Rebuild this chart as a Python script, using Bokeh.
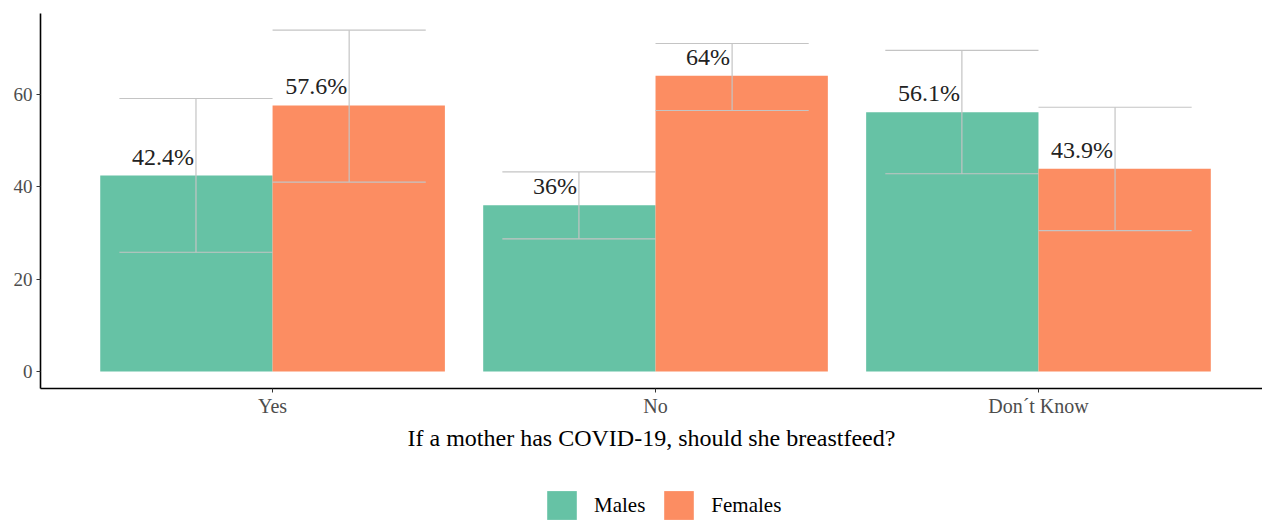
import numpy as np
from bokeh.plotting import figure
from bokeh.layouts import column
from bokeh.models import (ColumnDataSource, Range1d, FixedTicker, Legend,
                          LegendItem)
from bokeh.core.properties import value
from bokeh.embed import file_html
from bokeh.resources import INLINE

# Survey answers and the share of each group (percent)
answers = ["Yes", "No", "Don\u00b4t Know"]
groups = ["Males", "Females"]
males = [42.4, 36.0, 56.1]
females = [57.6, 64.0, 43.9]

# Confidence intervals (lower / upper) for each share
males_lo = [25.8, 28.7, 42.8]
males_hi = [59.1, 43.2, 69.5]
females_lo = [41.0, 56.5, 30.5]
females_hi = [73.9, 71.0, 57.2]

y_ticks = [0, 20, 40, 60]
x_title = "If a mother has COVID\u201019, should she breastfeed?"

GREEN = "#66C2A5"
ORANGE = "#FC8D62"
FONT = "Liberation Serif"

pos = np.arange(1, len(answers) + 1, dtype=float)
bar_w = 0.45
err_shift = 0.2
cap_half = 0.2

p = figure(frame_width=1222, frame_height=375, output_backend="svg",
           toolbar_location=None,
           x_range=Range1d(0.394, 3.585), y_range=Range1d(-3.7, 77.5),
           min_border_left=40, min_border_right=0, min_border_top=13,
           min_border_bottom=99)
p.outline_line_color = None
p.xgrid.visible = False
p.ygrid.visible = False
p.background_fill_color = "white"
p.border_fill_color = "white"

# Bars
src_m = ColumnDataSource(dict(x=pos - bar_w / 2, top=males))
src_f = ColumnDataSource(dict(x=pos + bar_w / 2, top=females))
p.vbar(x="x", top="top", bottom=0, width=bar_w, source=src_m,
       fill_color=GREEN, line_color=None)
p.vbar(x="x", top="top", bottom=0, width=bar_w, source=src_f,
       fill_color=ORANGE, line_color=None)

# Error bars
ERR_COLOR = "#c4c4c4"
for xs, lo, hi in ((pos - err_shift, males_lo, males_hi),
                   (pos + err_shift, females_lo, females_hi)):
    p.segment(x0=xs, x1=xs, y0=lo, y1=hi, line_color=ERR_COLOR, line_width=1.2)
    p.segment(x0=xs - cap_half, x1=xs + cap_half, y0=lo, y1=lo,
              line_color=ERR_COLOR, line_width=1.2)
    p.segment(x0=xs - cap_half, x1=xs + cap_half, y0=hi, y1=hi,
              line_color=ERR_COLOR, line_width=1.2)

# Value labels
def fmt(v):
    return f"{v:g}%"

for xs, vals in ((pos - err_shift, males), (pos + err_shift, females)):
    p.text(x=xs, y=vals, text=[fmt(v) for v in vals], x_offset=-2, y_offset=-19,
           text_align="right", text_baseline="alphabetic",
           text_font=value(FONT), text_font_size="24px", text_color="#222222")

# Axes
for ax in (p.xaxis, p.yaxis):
    ax.axis_line_color = "black"
    ax.axis_line_width = 1.6
    ax.major_tick_line_color = "#333333"
    ax.major_tick_out = 4
    ax.major_tick_in = 0
    ax.minor_tick_line_color = None
    ax.major_label_text_font = FONT
    ax.major_label_text_color = "#4d4d4d"
    ax.major_label_text_font_size = "19px"

p.yaxis.ticker = FixedTicker(ticks=y_ticks)
p.yaxis.major_label_standoff = 4

p.xaxis.ticker = FixedTicker(ticks=list(pos))
p.xaxis.major_label_overrides = {float(x): a for x, a in zip(pos, answers)}
p.xaxis.major_label_overrides.update({int(x): a for x, a in zip(pos, answers)})
p.xaxis.major_label_text_font_size = "20px"
p.xaxis.major_label_standoff = 2
p.xaxis.axis_label = x_title
p.xaxis.axis_label_text_font = FONT
p.xaxis.axis_label_text_font_style = "normal"
p.xaxis.axis_label_text_font_size = "24px"
p.xaxis.axis_label_text_color = "black"
p.xaxis.axis_label_standoff = 5

# Legend strip below the chart (its frame lines up with the chart frame)
leg = figure(width=1262, height=36, output_backend="svg", toolbar_location=None,
             x_axis_type=None, y_axis_type=None, min_border=0,
             x_range=Range1d(0, 1), y_range=Range1d(0, 1))
leg.outline_line_color = None
leg.xgrid.visible = False
leg.ygrid.visible = False
# placeholder renderers, kept outside the visible range, that only feed the legend
hidden = ColumnDataSource(dict(x=[-10.0], top=[0.0]))
lr_m = leg.vbar(x="x", top="top", width=0.1, source=hidden,
                fill_color=GREEN, line_color=None)
lr_f = leg.vbar(x="x", top="top", width=0.1, source=hidden,
                fill_color=ORANGE, line_color=None)
legend = Legend(items=[LegendItem(label=groups[0], renderers=[lr_m]),
                       LegendItem(label=groups[1], renderers=[lr_f])],
                orientation="horizontal", location=(503, 0),
                glyph_width=37, glyph_height=36, label_standoff=14, spacing=15,
                label_text_font=FONT, label_text_font_size="21px",
                label_text_color="black", border_line_color=None,
                background_fill_alpha=0, padding=0, margin=0)
leg.add_layout(legend)

open("out.html", "w").write(file_html(column(p, leg, spacing=0), INLINE))
